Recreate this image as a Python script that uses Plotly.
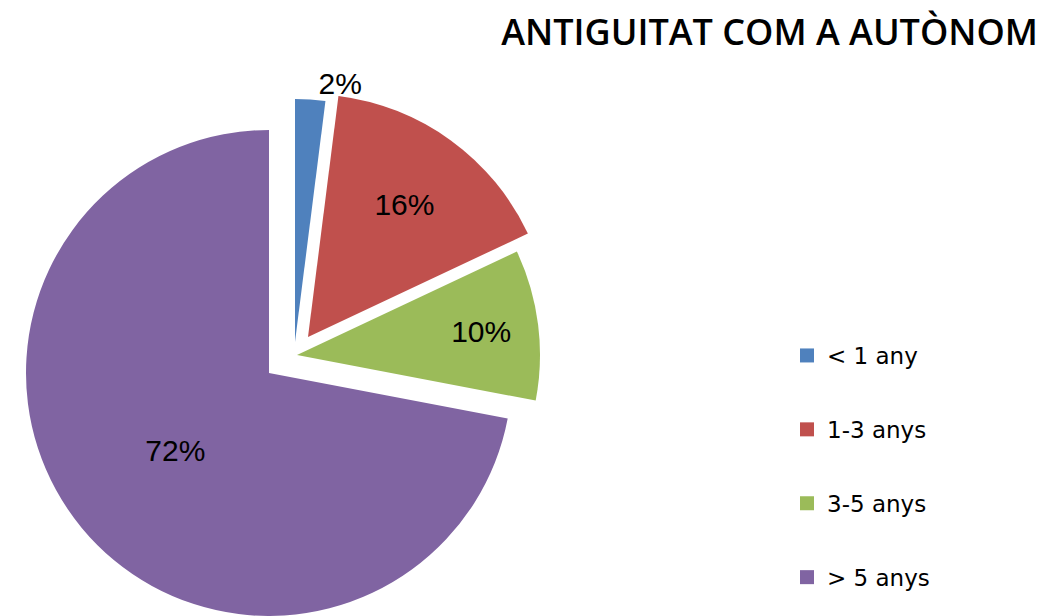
import plotly.graph_objects as go

# ---- data ----
categories = ["< 1 any", "1-3 anys", "3-5 anys", "> 5 anys"]
values = [2, 16, 10, 72]
colors = ["#4F81BD", "#C0504D", "#9BBB59", "#8064A2"]
title_text = "ANTIGUITAT COM A AUTÒNOM"

# ---- layout constants (screen pixels) ----
WIN_W, WIN_H = 1050, 616
OFF = 8                      # default page body margin
W, H = WIN_W - OFF, WIN_H - OFF   # figure size so it ends at the window edge


def fx(sx):
    """screen x -> container/paper fraction"""
    return (sx - OFF) / W


def fy(sy):
    """screen y -> container/paper fraction (from bottom)"""
    return (H - (sy - OFF)) / H


CX, CY, R = 269, 373, 243
# explosion offset of each slice (right, up) in pixels
explode = [(26, 31), (39, 36), (28, 18), (0, 0)]
text_pos = ["outside", "inside", "inside", "inside"]

labels_txt = [f"{v}%" for v in values]

fig = go.Figure()

# draw the big (non-exploded) slice first, then the exploded ones on top
order = [3, 0, 1, 2]
for k in order:
    dx, dy = explode[k]
    dom_x = [max(0.0, fx(CX - R + dx)), min(1.0, fx(CX + R + dx))]
    dom_y = [max(0.0, fy(CY + R - dy)), min(1.0, fy(CY - R - dy))]
    cols = [c if i == k else "rgba(0,0,0,0)" for i, c in enumerate(colors)]
    txt = [t if i == k else "" for i, t in enumerate(labels_txt)]
    tpos = [p if i == k else "none" for i, p in enumerate(text_pos)]
    fig.add_trace(go.Pie(
        labels=categories,
        values=values,
        sort=False,
        direction="clockwise",
        rotation=0,
        marker=dict(colors=cols, line=dict(width=0)),
        text=txt,
        textinfo="text",
        textposition=tpos,
        insidetextorientation="horizontal",
        textfont=dict(family="Liberation Sans", size=30, color="#000000"),
        domain=dict(x=dom_x, y=dom_y),
        showlegend=False,
        hoverinfo="label+percent",
    ))

# legend entries (one per category, square markers)
for i, (cat, col) in enumerate(zip(categories, colors)):
    fig.add_trace(go.Scatter(
        x=[None], y=[None], mode="markers", name=cat,
        marker=dict(symbol="square", size=14, color=col),
        legendgroup=f"g{i}", showlegend=True,
    ))

fig.update_layout(
    width=W, height=H,
    margin=dict(l=0, r=0, t=0, b=0),
    paper_bgcolor="white", plot_bgcolor="white",
    xaxis=dict(visible=False), yaxis=dict(visible=False),
    title=dict(text=title_text, x=fx(1038), xref="container", xanchor="right",
               y=fy(32), yref="container", yanchor="middle",
               font=dict(family="Open Sans", size=36, color="#000000", weight=600)),
    legend=dict(x=fx(787), xanchor="left", y=fy(334), yanchor="top",
                font=dict(family="DejaVu Sans", size=23, color="#000000"),
                tracegroupgap=41, bgcolor="rgba(0,0,0,0)"),
)

fig.write_html("out.html")
